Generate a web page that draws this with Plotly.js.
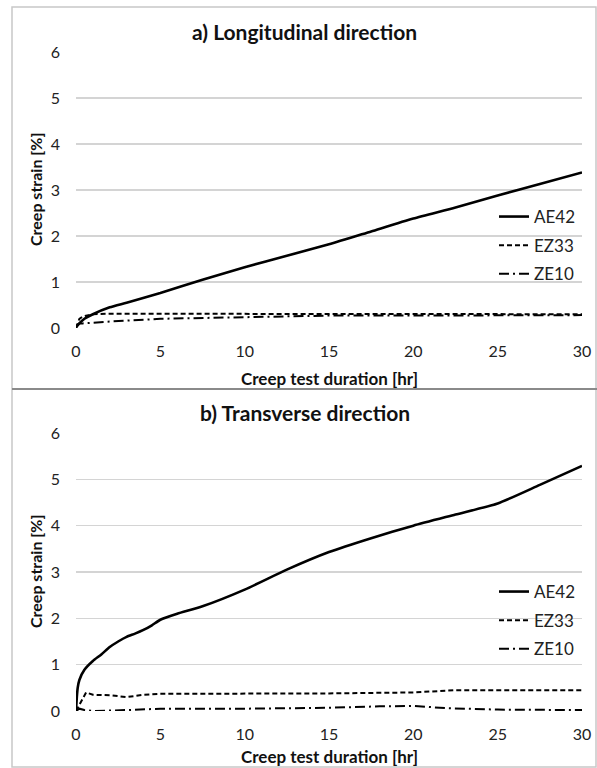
<!DOCTYPE html>
<html>
<head>
<meta charset="utf-8">
<script src="https://cdn.plot.ly/plotly-3.0.1.min.js"></script>
<style>html,body{margin:0;padding:0;background:#fff;}</style>
</head>
<body>
<div id="chart" style="width:597px;height:768px;"></div>
<script>
// ---- Data ----
var seriesNames = ["AE42", "EZ33", "ZE10"];
var xTicks = [0, 5, 10, 15, 20, 25, 30];
var yTicks = [0, 1, 2, 3, 4, 5, 6];

// a) Longitudinal direction
var tL_AE42 = [0, 0.25, 0.5, 1, 2, 3, 5, 7.5, 10, 12.5, 15, 17.5, 20, 22.5, 25, 27.5, 30];
var L_AE42  = [0.03, 0.12, 0.2, 0.3, 0.45, 0.55, 0.76, 1.05, 1.32, 1.57, 1.82, 2.1, 2.38, 2.62, 2.88, 3.13, 3.38];
var tL_EZ33 = [0, 0.2, 0.4, 1, 2, 5, 10, 15, 20, 25, 30];
var L_EZ33  = [0, 0.2, 0.25, 0.3, 0.31, 0.31, 0.31, 0.3, 0.3, 0.3, 0.3];
var tL_ZE10 = [0, 0.2, 0.4, 1, 2, 5, 10, 15, 20, 25, 30];
var L_ZE10  = [0, 0.1, 0.1, 0.12, 0.14, 0.2, 0.24, 0.27, 0.27, 0.28, 0.28];

// b) Transverse direction
var tT_AE42 = [0, 0.05, 0.1, 0.2, 0.5, 1, 1.5, 2, 2.5, 3, 3.5, 4, 4.5, 5, 6, 7.5, 10, 12.5, 15, 17.5, 20, 22.5, 25, 27.5, 30];
var T_AE42  = [0, 0.3, 0.5, 0.67, 0.89, 1.08, 1.22, 1.38, 1.5, 1.6, 1.67, 1.75, 1.85, 1.97, 2.1, 2.26, 2.62, 3.05, 3.43, 3.73, 4.0, 4.24, 4.48, 4.88, 5.29];
var tT_EZ33 = [0, 0.3, 0.6, 1, 2, 3, 4, 5, 10, 15, 20, 22.5, 25, 30];
var T_EZ33  = [0, 0.2, 0.4, 0.35, 0.34, 0.3, 0.35, 0.37, 0.37, 0.38, 0.4, 0.45, 0.45, 0.45];
var tT_ZE10 = [0, 0.2, 0.5, 1, 3, 5, 10, 15, 18, 20, 22, 25, 30];
var T_ZE10  = [0, 0.05, 0.02, 0, 0.02, 0.05, 0.05, 0.07, 0.1, 0.11, 0.06, 0.03, 0.02];

// ---- Styling ----
var W = 597, H = 768;
function px(x){ return x / W; }
function py(y){ return 1 - y / H; }
var FONT = "Lato, 'Open Sans', sans-serif";
var styles = [
  {color:"#000", width:2.6, dash:"solid", shape:"spline"},
  {color:"#000", width:2, dash:"5px,3px", shape:"linear"},
  {color:"#000", width:2, dash:"10px,4px,2px,4px", shape:"linear"}
];

function mk(x, y, i, xa, ya, leg){
  return {x:x, y:y, name:seriesNames[i], type:"scatter", mode:"lines",
    xaxis:xa, yaxis:ya, legend:leg, legendgroup:leg+i,
    line:{color:styles[i].color, width:styles[i].width, dash:styles[i].dash,
      shape:styles[i].shape, smoothing:0.6}};
}

var data = [
  mk(tL_AE42, L_AE42, 0, "x", "y", "legend"),
  mk(tL_EZ33, L_EZ33, 1, "x", "y", "legend"),
  mk(tL_ZE10, L_ZE10, 2, "x", "y", "legend"),
  mk(tT_AE42, T_AE42, 0, "x2", "y2", "legend2"),
  mk(tT_EZ33, T_EZ33, 1, "x2", "y2", "legend2"),
  mk(tT_ZE10, T_ZE10, 2, "x2", "y2", "legend2")
];

var tickFont = {family:FONT, size:16, color:"#222"};
function xax(anchor){
  return {domain:[px(76), px(582)], range:[0,30], tickvals:xTicks, ticks:"",
    showgrid:false, zeroline:false, showline:false, anchor:anchor,
    ticklabelstandoff:12, tickfont:tickFont};
}
function yax(dom, anchor){
  return {domain:dom, range:[0,6], tickvals:yTicks, ticks:"",
    showgrid:true, gridcolor:"#d4d4d4", gridwidth:1.3, zeroline:false, showline:false,
    anchor:anchor, ticklabelstandoff:15, tickfont:tickFont};
}

function legendAt(xp, yp){
  return {x:px(xp), y:py(yp), xanchor:"left", yanchor:"top", bgcolor:"rgba(0,0,0,0)",
    borderwidth:0, traceorder:"grouped", tracegroupgap:3.5, itemwidth:30,
    font:{family:FONT, size:17, color:"#222"}};
}

var boldT = {family:FONT, size:21, color:"#111", weight:"bold"};
var boldX = {family:FONT, size:17, color:"#111", weight:"bold"};
var boldY = {family:FONT, size:16, color:"#111", weight:"bold"};

function ann(text, x, y, font, angle){
  return {text:text, x:px(x), y:py(y), xref:"paper", yref:"paper", xanchor:"center", yanchor:"middle",
    showarrow:false, textangle:angle || 0, font:font};
}

var layout = {
  width:W, height:H, margin:{l:0,r:0,t:0,b:0},
  paper_bgcolor:"#fff", plot_bgcolor:"#fff", showlegend:true,
  xaxis:xax("y"), yaxis:yax([py(328), py(52)], "x"),
  xaxis2:xax("y2"), yaxis2:yax([py(711), py(433)], "x2"),
  legend:legendAt(494, 199),
  legend2:legendAt(494, 574),
  annotations:[
    ann("<b>a) Longitudinal direction</b>", 304, 32, boldT),
    ann("<b>b) Transverse direction</b>", 305, 412, boldT),
    ann("<b>Creep test duration [hr]</b>", 329, 378, boldX),
    ann("<b>Creep test duration [hr]</b>", 329, 756, boldX),
    ann("<b>Creep strain [%]</b>", 35, 190, boldY, -90),
    ann("<b>Creep strain [%]</b>", 35, 572, boldY, -90)
  ],
  shapes:[
    {type:"rect", xref:"paper", yref:"paper", x0:px(12), x1:px(596), y0:py(767), y1:py(7), line:{color:"#c8c8c8", width:1.5}},
    {type:"line", xref:"paper", yref:"paper", x0:px(12), x1:px(597), y0:py(389), y1:py(389), line:{color:"#8a8a8a", width:2}}
  ]
};

Plotly.newPlot("chart", data, layout, {displayModeBar:false, staticPlot:true});
</script>
</body>
</html>
